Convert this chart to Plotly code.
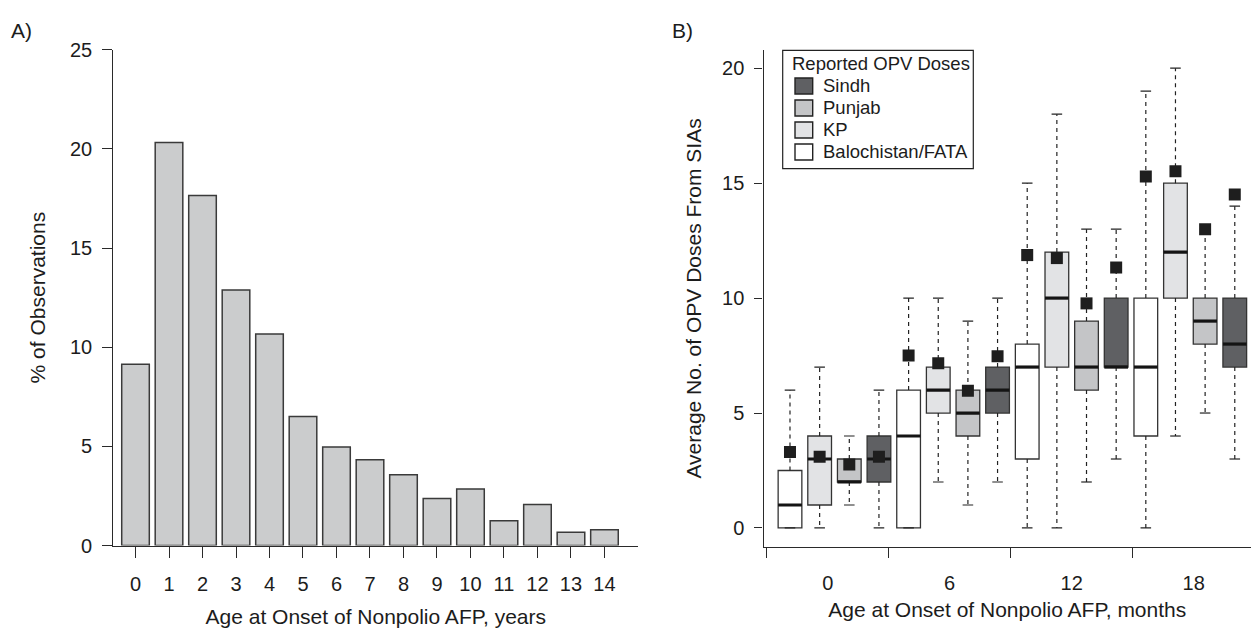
import plotly.graph_objects as go

# ---------------- Panel A data ----------------
age_years = list(range(15))
pct_observations = [9.14, 20.32, 17.65, 12.88, 10.66, 6.51, 4.97, 4.33,
                     3.57, 2.38, 2.86, 1.25, 2.07, 0.68, 0.80]
year_ticks = list(range(15))
pct_ticks = [0, 5, 10, 15, 20, 25]

# ---------------- Panel B data ----------------
age_group_labels = ["0", "6", "12", "18"]
age_group_ticks = [0, 6, 12, 18]
age_group_bounds = [-3, 3, 9, 15]
dose_ticks = [0, 5, 10, 15, 20]

regions = ["Balochistan/FATA", "KP", "Punjab", "Sindh"]
region_colors = {"Balochistan/FATA": "#ffffff", "KP": "#e2e3e5",
                 "Punjab": "#c4c5c7", "Sindh": "#5f6063"}
legend_title = "Reported OPV Doses"
legend_order = ["Sindh", "Punjab", "KP", "Balochistan/FATA"]

balo_lower = [0, 0, 0, 0]
balo_q1 = [0, 0, 3, 4]
balo_median = [1, 4, 7, 7]
balo_q3 = [2.5, 6, 8, 10]
balo_upper = [6, 10, 15, 19]
balo_mean = [3.31, 7.50, 11.87, 15.29]

kp_lower = [0, 2, 0, 4]
kp_q1 = [1, 5, 7, 10]
kp_median = [3, 6, 10, 12]
kp_q3 = [4, 7, 12, 15]
kp_upper = [7, 10, 18, 20]
kp_mean = [3.10, 7.17, 11.74, 15.52]

punjab_lower = [1, 1, 2, 5]
punjab_q1 = [2, 4, 6, 8]
punjab_median = [2, 5, 7, 9]
punjab_q3 = [3, 6, 9, 10]
punjab_upper = [4, 9, 13, 13]
punjab_mean = [2.76, 5.97, 9.77, 13.00]

sindh_lower = [0, 2, 3, 3]
sindh_q1 = [2, 5, 7, 7]
sindh_median = [3, 6, 7, 8]
sindh_q3 = [4, 7, 10, 10]
sindh_upper = [6, 10, 13, 14]
sindh_mean = [3.10, 7.47, 11.33, 14.51]

stats = {
    "Balochistan/FATA": (balo_lower, balo_q1, balo_median, balo_q3, balo_upper, balo_mean),
    "KP": (kp_lower, kp_q1, kp_median, kp_q3, kp_upper, kp_mean),
    "Punjab": (punjab_lower, punjab_q1, punjab_median, punjab_q3, punjab_upper, punjab_mean),
    "Sindh": (sindh_lower, sindh_q1, sindh_median, sindh_q3, sindh_upper, sindh_mean),
}

# ---------------- layout constants ----------------
W, H = 1251, 629
FONT = "Liberation Sans, Arial, Helvetica, sans-serif"
INK = "#1c1c1c"
AXC = "#2a2a2a"
BOX_FIRST = -1.854    # month-axis position of first box
BOX_STEP = 1.4584     # spacing between adjacent boxes
BOX_W = 1.166
CAP_W = 0.52


def fx(p):
    return p / W


def fy(p):
    return 1 - p / H


fig = go.Figure()

# Panel A bars
fig.add_trace(go.Bar(
    x=age_years, y=pct_observations, width=0.824,
    marker=dict(color="#cbcccd", line=dict(color="#3a3a3a", width=1.5)),
    xaxis="x", yaxis="y", showlegend=False, hoverinfo="x+y"))

# Panel B boxes
med_x, med_y = [], []
wh_x, wh_y = [], []
cap_x, cap_y = [], []
mean_x, mean_y = [], []
for j, reg in enumerate(regions):
    lo, q1, md, q3, up, mn = stats[reg]
    pos = [BOX_FIRST + BOX_STEP * (4 * g + j) for g in range(len(md))]
    fig.add_trace(go.Box(
        x=pos, q1=q1, median=md, q3=q3, lowerfence=q1, upperfence=q3,
        width=BOX_W, whiskerwidth=0, boxpoints=False,
        fillcolor=region_colors[reg], line=dict(color="#333333", width=1.3),
        xaxis="x2", yaxis="y2", showlegend=False, name=reg))
    for p, a, b, c, d, e, m in zip(pos, lo, q1, md, q3, up, mn):
        med_x += [p - BOX_W / 2, p + BOX_W / 2, None]
        med_y += [c, c, None]
        wh_x += [p, p, None, p, p, None]
        wh_y += [d, e, None, b, a, None]
        cap_x += [p - CAP_W / 2, p + CAP_W / 2, None, p - CAP_W / 2, p + CAP_W / 2, None]
        cap_y += [e, e, None, a, a, None]
        mean_x.append(p)
        mean_y.append(m)

fig.add_trace(go.Scatter(x=wh_x, y=wh_y, mode="lines",
                         line=dict(color="#222222", width=1.2, dash="4px,4px"),
                         xaxis="x2", yaxis="y2", showlegend=False, hoverinfo="skip"))
fig.add_trace(go.Scatter(x=cap_x, y=cap_y, mode="lines",
                         line=dict(color="#222222", width=1.2),
                         xaxis="x2", yaxis="y2", showlegend=False, hoverinfo="skip"))
fig.add_trace(go.Scatter(x=med_x, y=med_y, mode="lines",
                         line=dict(color="#141414", width=3.2),
                         xaxis="x2", yaxis="y2", showlegend=False, hoverinfo="skip"))
fig.add_trace(go.Scatter(x=mean_x, y=mean_y, mode="markers",
                         marker=dict(symbol="square", size=12, color="#1e1e1e"),
                         xaxis="x2", yaxis="y2", showlegend=False))

# ---------------- legend box (drawn in paper space) ----------------
LEG_L, LEG_R, LEG_T, LEG_B = 782.7, 973.3, 40.7, 163.3
LEG_TITLE_Y = 54.5
LEG_ITEM_Y0, LEG_ITEM_DY = 77.7, 22.8
SW_L, SW_R, SW_H = 795.0, 812.7, 16.5
LEG_TEXT_X = 821.0

shapes = [dict(type="rect", xref="paper", yref="paper",
               x0=fx(LEG_L), x1=fx(LEG_R), y0=fy(LEG_B), y1=fy(LEG_T),
               line=dict(color="#222222", width=1.2), fillcolor="white", layer="above")]
annotations = [dict(text=legend_title, x=fx(LEG_L + 7), y=fy(LEG_TITLE_Y),
                    xref="paper", yref="paper", xanchor="left", yanchor="middle",
                    showarrow=False, font=dict(family=FONT, size=18.5, color=INK))]
for i, reg in enumerate(legend_order):
    yc = LEG_ITEM_Y0 + i * LEG_ITEM_DY
    shapes.append(dict(type="rect", xref="paper", yref="paper",
                       x0=fx(SW_L), x1=fx(SW_R), y0=fy(yc + SW_H / 2), y1=fy(yc - SW_H / 2),
                       line=dict(color="#222222", width=1.4),
                       fillcolor=region_colors[reg], layer="above"))
    annotations.append(dict(text=reg, x=fx(LEG_TEXT_X), y=fy(yc),
                            xref="paper", yref="paper", xanchor="left", yanchor="middle",
                            showarrow=False, font=dict(family=FONT, size=18.5, color=INK)))

tickfont = dict(family=FONT, size=20, color=INK)
titlefont = dict(family=FONT, size=21, color=INK)

annotations += [
    dict(text="A)", x=fx(9), y=fy(20), xref="paper", yref="paper",
         xanchor="left", yanchor="middle", showarrow=False, font=titlefont),
    dict(text="B)", x=fx(670), y=fy(20), xref="paper", yref="paper",
         xanchor="left", yanchor="middle", showarrow=False, font=titlefont),
]

fig.update_layout(
    width=W, height=H,
    margin=dict(l=0, r=0, t=0, b=0),
    paper_bgcolor="white", plot_bgcolor="white",
    font=dict(family=FONT, color=INK),
    boxmode="overlay",
    showlegend=False,
    xaxis=dict(domain=[fx(113.3), fx(638.3)], range=[-0.663, 15.01], anchor="y",
               tickmode="array", tickvals=year_ticks,
               ticks="outside", ticklen=11, tickwidth=1.3, tickcolor=AXC,
               ticklabelstandoff=9,
               showline=True, linecolor=AXC, linewidth=1.3,
               showgrid=False, zeroline=False, tickfont=tickfont,
               title=dict(text="Age at Onset of Nonpolio AFP, years", font=titlefont, standoff=15)),
    yaxis=dict(domain=[fy(554), fy(40)], range=[0, 25], anchor="x",
               tickmode="array", tickvals=pct_ticks,
               ticks="outside", ticklen=10, tickwidth=1.3, tickcolor=AXC,
               ticklabelstandoff=6,
               showline=True, linecolor=AXC, linewidth=1.3,
               showgrid=False, zeroline=False, tickfont=tickfont,
               title=dict(text="% of Observations", font=titlefont, standoff=18)),
    xaxis2=dict(domain=[fx(763.5), 1.0], range=[-3.157, 20.82], anchor="y2",
                tickmode="array", tickvals=age_group_ticks, ticktext=age_group_labels,
                ticks="outside", ticklen=10, tickcolor="rgba(0,0,0,0)",
                ticklabelstandoff=8,
                minor=dict(tickmode="array", tickvals=age_group_bounds, ticks="outside",
                           ticklen=10, tickwidth=1.3, tickcolor=AXC, showgrid=False),
                showline=True, linecolor=AXC, linewidth=1.3,
                showgrid=False, zeroline=False, tickfont=tickfont,
                title=dict(text="Age at Onset of Nonpolio AFP, months", font=titlefont, standoff=9)),
    yaxis2=dict(domain=[fy(555), fy(40.7)], range=[-0.81, 20.78], anchor="x2",
                tickmode="array", tickvals=dose_ticks,
                ticks="outside", ticklen=8, tickwidth=1.3, tickcolor=AXC,
                ticklabelstandoff=6,
                showline=True, linecolor=AXC, linewidth=1.3,
                showgrid=False, zeroline=False, tickfont=tickfont,
                title=dict(text="Average No. of OPV Doses From SIAs", font=titlefont, standoff=14)),
    shapes=shapes,
    annotations=annotations,
)

fig.write_html("out.html",
               config={"displayModeBar": False},
               post_script="document.body.style.margin='0';document.body.style.padding='0';")
